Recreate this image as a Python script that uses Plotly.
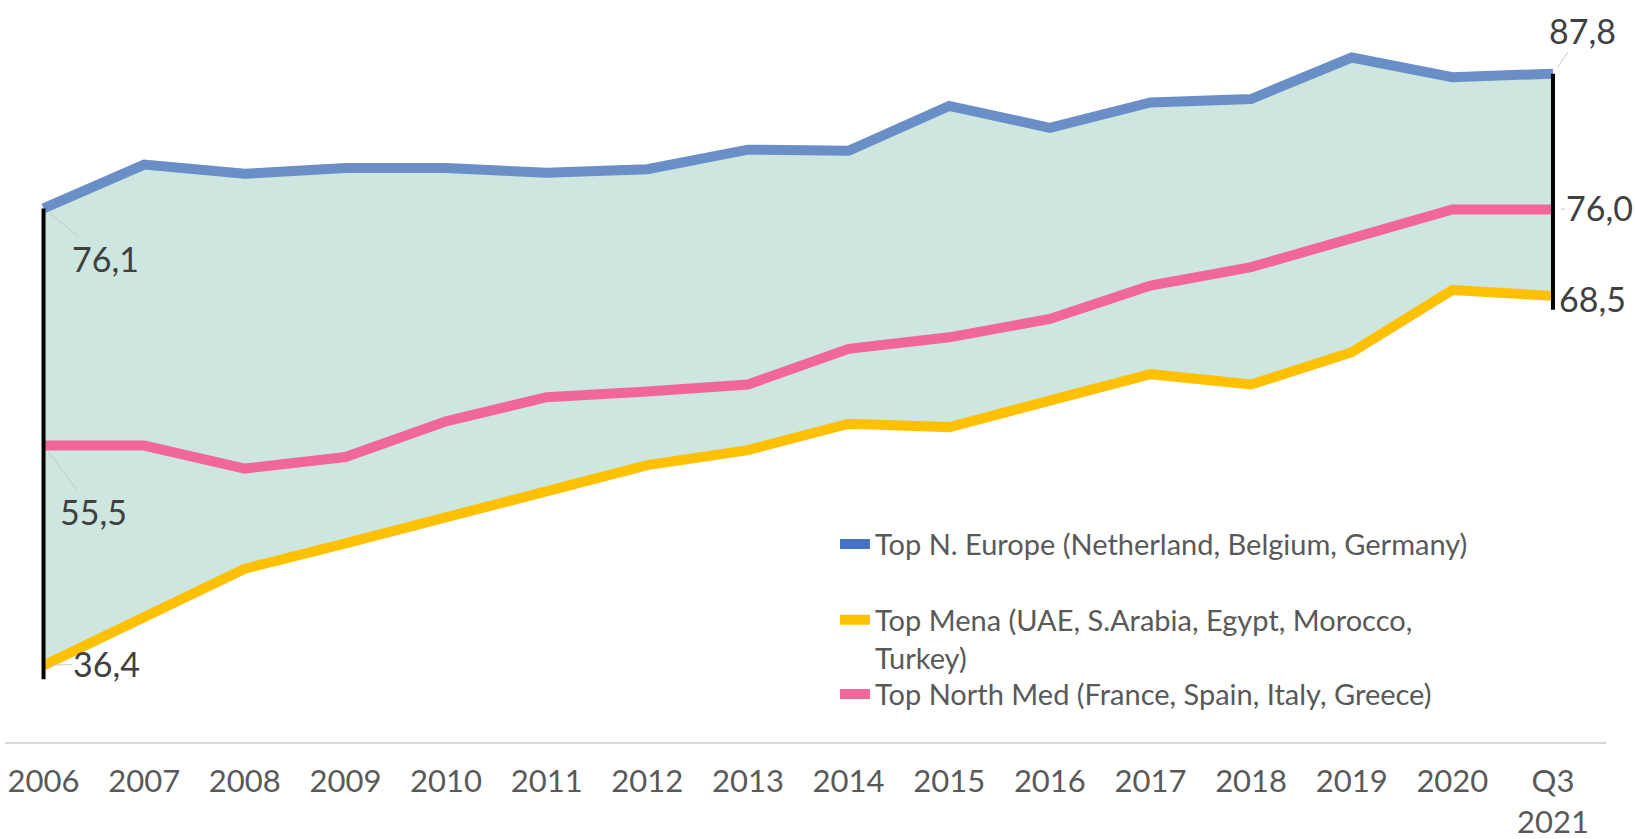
import plotly.graph_objects as go

categories = ["2006", "2007", "2008", "2009", "2010", "2011", "2012", "2013",
              "2014", "2015", "2016", "2017", "2018", "2019", "2020", "Q3<br>2021"]

europe = [76.1, 79.9, 79.1, 79.6, 79.6, 79.2, 79.5, 81.2,
          81.1, 85.0, 83.1, 85.3, 85.6, 89.2, 87.5, 87.8]
north_med = [55.5, 55.5, 53.5, 54.5, 57.6, 59.7, 60.2, 60.8,
             63.9, 64.9, 66.5, 69.4, 71.0, 73.5, 76.0, 76.0]
mena = [36.4, 40.5, 44.8, 47.0, 49.2, 51.6, 53.8, 55.1,
        57.4, 57.1, 59.4, 61.7, 60.8, 63.6, 69.0, 68.5]

names = ["Top N. Europe (Netherland, Belgium, Germany)",
         "Top Mena (UAE, S.Arabia, Egypt, Morocco,<br>Turkey)",
         "Top North Med (France, Spain, Italy, Greece)"]

FILL = "#CDE6E0"
BLUE_LINE = "#6A8EC6"
BLUE_LEG = "#4472C4"
PINK = "#F2679A"
YELLOW = "#FFC000"
FONT = "Lato"

fig = go.Figure()

# shaded band between Mena and N. Europe
fig.add_trace(go.Scatter(x=categories, y=mena, mode="lines", line=dict(width=0),
                         showlegend=False, hoverinfo="skip"))
fig.add_trace(go.Scatter(x=categories, y=europe, mode="lines", line=dict(width=0),
                         fill="tonexty", fillcolor=FILL, showlegend=False, hoverinfo="skip"))

# visible lines
fig.add_trace(go.Scatter(x=categories, y=europe, mode="lines",
                         line=dict(color=BLUE_LINE, width=10), showlegend=False))
fig.add_trace(go.Scatter(x=categories, y=north_med, mode="lines",
                         line=dict(color=PINK, width=10), showlegend=False))
fig.add_trace(go.Scatter(x=categories, y=mena, mode="lines",
                         line=dict(color=YELLOW, width=10), showlegend=False))

# black range bars at first and last category
EXT = 1.2
for i in (0, len(categories) - 1):
    fig.add_trace(go.Scatter(x=[categories[i], categories[i]],
                             y=[europe[i], mena[i] - EXT], mode="lines",
                             line=dict(color="black", width=4), showlegend=False,
                             hoverinfo="skip"))

# legend entries, each in its own legend box
legend_ids = ["legend", "legend2", "legend3"]
for nm, col, lid in zip(names, [BLUE_LEG, YELLOW, PINK], legend_ids):
    fig.add_trace(go.Scatter(x=[None], y=[None], mode="lines", name=nm,
                             line=dict(color=col, width=10), legend=lid))

def lab(v):
    return f"{v:.1f}".replace(".", ",")

last = len(categories) - 1
label_specs = [
    (0, europe[0], 62, 50),
    (0, north_med[0], 50, 66),
    (0, mena[0], 63, -2),
    (last, europe[last], 30, -43),
    (last, north_med[last], 47, -2),
    (last, mena[last], 40, 3),
]
for x, y, ax, ay in label_specs:
    fig.add_annotation(x=x, y=y, xref="x", yref="y", text=lab(y),
                       showarrow=True, ax=ax, ay=ay, arrowhead=0, arrowwidth=1,
                       arrowcolor="#c8c8c8", standoff=8,
                       font=dict(family=FONT, size=34, color="#404040"))

leg_common = dict(xanchor="left", yanchor="top",
                  font=dict(family=FONT, size=29, color="#595959"),
                  valign="top", bgcolor="rgba(0,0,0,0)")

fig.update_layout(
    width=1635, height=839,
    margin=dict(l=5, r=29, t=0, b=97),
    plot_bgcolor="white", paper_bgcolor="white",
    font=dict(family=FONT, color="#595959"),
    xaxis=dict(type="category", range=[-0.383, 15.527], showgrid=False,
               showline=True, linecolor="#D9D9D9", linewidth=2, ticks="",
               ticklabelstandoff=11, tickfont=dict(family=FONT, size=31, color="#595959"),
               zeroline=False),
    yaxis=dict(range=[29.75, 94.2], visible=False, showgrid=False, zeroline=False),
    legend=dict(x=0.5184, y=0.3010, **leg_common),
    legend2=dict(x=0.5184, y=0.1988, **leg_common),
    legend3=dict(x=0.5184, y=0.0989, **leg_common),
    showlegend=True,
)

fig.write_html(
    "out.html",
    config={"displayModeBar": False},
    post_script=("document.body.style.margin='0';"
                 "document.documentElement.style.overflow='hidden';"
                 "document.body.style.overflow='hidden';"),
)
